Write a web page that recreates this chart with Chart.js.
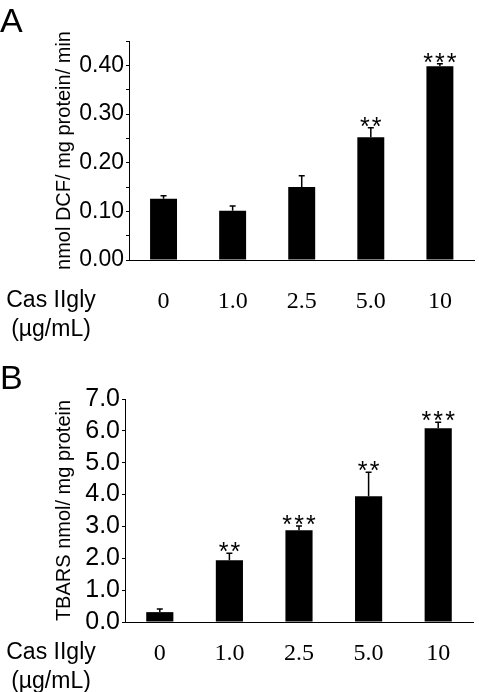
<!DOCTYPE html>
<html>
<head>
<meta charset="utf-8">
<script src="https://cdn.jsdelivr.net/npm/chart.js@4.4.0/dist/chart.umd.min.js"></script>
<style>
  html, body { margin: 0; padding: 0; background: #fff; }
  #wrap { position: relative; width: 479px; height: 692px; }
  canvas { position: absolute; left: 0; }
</style>
</head>
<body>
<div id="wrap">
  <canvas id="chartA" width="479" height="345" style="top:0"></canvas>
  <canvas id="chartB" width="479" height="347" style="top:345px"></canvas>
</div>
<script>
// data
const doses = ['0', '1.0', '2.5', '5.0', '10'];
const xCaption = ['Cas IIgly', '(\u00b5g/mL)'];

const dcfMean = [0.126, 0.101, 0.150, 0.252, 0.398];
const dcfErr = [0.006, 0.010, 0.023, 0.020, 0.005];
const dcfStars = ['', '', '', '**', '***'];

const tbarsMean = [0.31, 1.94, 2.88, 3.95, 6.08];
const tbarsErr = [0.10, 0.22, 0.13, 0.75, 0.19];
const tbarsStars = ['', '**', '***', '**', '***'];

const SANS = '"Liberation Sans", Arial, Helvetica, sans-serif';
const SERIF = '"Liberation Serif", "Times New Roman", serif';

// error bars, significance stars, panel letter, x caption
const extras = {
  id: 'extras',
  afterDatasetsDraw(chart, args, opts) {
    const ctx = chart.ctx;
    const ds = chart.data.datasets[0];
    const meta = chart.getDatasetMeta(0);
    const y = chart.scales.y;
    ctx.save();
    ctx.strokeStyle = '#000';
    ctx.fillStyle = '#000';
    ctx.lineWidth = 1.5;
    meta.data.forEach((bar, i) => {
      const top = y.getPixelForValue(ds.data[i] + ds.errors[i]);
      ctx.beginPath();
      ctx.moveTo(bar.x, bar.y);
      ctx.lineTo(bar.x, top);
      ctx.moveTo(bar.x - 3, top);
      ctx.lineTo(bar.x + 3, top);
      ctx.stroke();
      if (ds.stars[i]) {
        ctx.font = '25px ' + SANS;
        ctx.textAlign = 'center';
        ctx.textBaseline = 'alphabetic';
        ctx.fillText(ds.stars[i].split('').join('\u200a'), bar.x, top + 7);
      }
    });

    ctx.font = '34px ' + SANS;
    ctx.textAlign = 'left';
    ctx.textBaseline = 'alphabetic';
    ctx.fillText(opts.letter, 0, opts.letterY);

    ctx.font = '23px ' + SANS;
    ctx.textAlign = 'center';
    ctx.textBaseline = 'middle';
    const cy = chart.chartArea.bottom + opts.captionGap;
    ctx.fillText(xCaption[0], 51, cy);
    ctx.fillText(xCaption[1], 51, cy + 29);
    ctx.restore();
  }
};

function makeChart(id, mean, err, stars, cfg) {
  return new Chart(document.getElementById(id), {
    type: 'bar',
    data: {
      labels: doses,
      datasets: [{
        data: mean,
        errors: err,
        stars: stars,
        backgroundColor: '#000',
        borderColor: '#333',
        borderWidth: 0,
        barPercentage: 0.39,
        categoryPercentage: 1.0
      }]
    },
    options: {
      responsive: false,
      animation: false,
      layout: { padding: { top: cfg.top, right: cfg.right, left: 0, bottom: 0 } },
      plugins: {
        legend: { display: false },
        tooltip: { enabled: false },
        extras: { letter: cfg.letter, letterY: cfg.letterY, captionGap: cfg.captionGap }
      },
      scales: {
        x: {
          grid: { display: false, drawTicks: false },
          border: { display: true, color: '#000', width: 1 },
          ticks: {
            color: '#000',
            font: { family: SERIF, size: 24 },
            padding: cfg.xPad,
            maxRotation: 0,
            autoSkip: false
          },
          afterFit(scale) { scale.height = cfg.xHeight; }
        },
        y: {
          min: 0,
          max: cfg.max,
          grid: { drawOnChartArea: false, drawTicks: true, tickLength: 3, color: '#000' },
          border: { display: true, color: '#000', width: 1 },
          ticks: {
            stepSize: cfg.step,
            autoSkip: false,
            color: '#000',
            padding: 2,
            font: { family: SANS, size: cfg.tickSize },
            callback: cfg.fmt
          },
          title: {
            display: true,
            text: cfg.title,
            color: '#000',
            font: { family: SANS, size: 20 },
            padding: { top: 52, bottom: 0 }
          },
          afterFit(scale) { scale.width = cfg.yWidth; }
        }
      }
    },
    plugins: [extras]
  });
}

makeChart('chartA', dcfMean, dcfErr, dcfStars, {
  letter: 'A', letterY: 32, captionGap: 41,
  top: 41, right: 1, xHeight: 85, xPad: 27, yWidth: 129,
  max: 0.45, step: 0.05, tickSize: 23,
  title: 'nmol DCF/ mg protein/ min',
  fmt: v => (Math.round(v * 100) % 10 === 0 ? v.toFixed(2) : '')
});

makeChart('chartB', tbarsMean, tbarsErr, tbarsStars, {
  letter: 'B', letterY: 44, captionGap: 31,
  top: 54, right: 6, xHeight: 70, xPad: 17, yWidth: 125,
  max: 7, step: 1, tickSize: 25,
  title: 'TBARS nmol/ mg protein',
  fmt: v => v.toFixed(1)
});
</script>
</body>
</html>
